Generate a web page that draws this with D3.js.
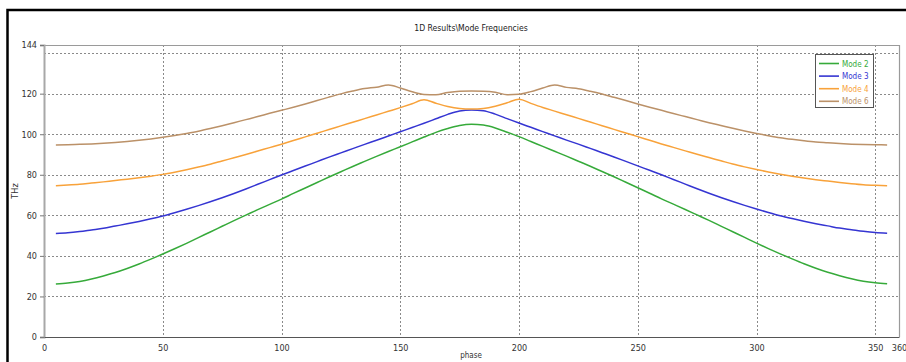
<!DOCTYPE html>
<html><head><meta charset="utf-8">
<script src="https://cdn.jsdelivr.net/npm/d3@7"></script>
<style>
html,body{margin:0;padding:0;background:#fff;}
svg{display:block;}
text{font-family:"Liberation Sans Narrow","DejaVu Sans Condensed","Arial Narrow",sans-serif;}
</style></head>
<body>
<svg id="chart" width="906" height="362"></svg>
<script>
const phases = [5,10,15,20,25,30,35,40,45,50,55,60,65,70,75,80,85,90,95,100,105,110,115,120,125,130,135,140,145,150,155,160,165,170,175,180,
185,190,195,200,205,210,215,220,225,230,235,240,245,250,255,260,265,270,275,280,285,290,295,300,305,310,315,320,325,330,335,340,345,350,355];
const mode2 = [26.1,26.6,27.4,28.6,30.1,31.8,33.8,36.0,38.4,40.9,43.5,46.2,49.0,51.8,54.6,57.4,60.1,62.8,65.4,68.0,70.8,73.5,76.2,78.9,81.5,84.1,86.6,89.1,91.5,93.8,96.2,98.6,100.9,102.8,104.3,104.9,
104.5,103.1,101.0,98.8,96.4,94.0,91.6,89.2,86.7,84.2,81.6,79.0,76.3,73.6,70.9,68.1,65.5,62.9,60.2,57.5,54.7,51.9,49.1,46.3,43.6,41.0,38.5,36.1,33.9,31.9,30.2,28.7,27.5,26.7,26.2];
const mode3 = [51.1,51.4,52.0,52.8,53.6,54.7,55.8,57.0,58.3,59.7,61.3,63.0,64.8,66.7,68.7,70.8,73.0,75.3,77.6,79.9,82.1,84.3,86.5,88.7,90.8,92.9,95.0,97.0,99.1,101.2,103.3,105.4,107.6,109.8,111.5,112.0,
111.6,109.9,107.7,105.5,103.4,101.3,99.2,97.1,95.1,93.0,90.9,88.8,86.6,84.4,82.2,80.0,77.7,75.4,73.1,70.9,68.8,66.8,64.9,63.1,61.4,59.8,58.4,57.1,55.9,54.8,53.7,52.9,52.1,51.5,51.2];
const mode4 = [74.6,74.9,75.3,75.9,76.5,77.2,77.8,78.5,79.3,80.2,81.3,82.5,83.8,85.2,86.8,88.4,90.0,91.7,93.4,95.1,96.9,98.7,100.5,102.3,104.1,105.9,107.7,109.5,111.3,113.1,115.0,117.0,115.3,113.7,112.7,112.4,
112.7,113.8,115.5,117.3,115.2,113.2,111.4,109.6,107.8,106.0,104.2,102.4,100.6,98.8,97.0,95.2,93.5,91.8,90.1,88.5,86.9,85.3,83.9,82.6,81.4,80.3,79.3,78.4,77.6,76.9,76.2,75.6,75.1,74.8,74.6];
const mode6 = [94.7,94.8,95.0,95.2,95.5,95.9,96.4,97.0,97.7,98.5,99.4,100.4,101.5,102.8,104.2,105.7,107.2,108.7,110.3,111.8,113.3,114.9,116.6,118.3,119.9,121.3,122.5,123.2,124.3,122.8,120.9,119.6,119.5,120.6,121.2,121.3,
121.2,120.7,119.5,119.7,121.0,122.8,124.3,123.1,122.4,121.2,119.8,118.2,116.6,114.9,113.3,111.8,110.2,108.7,107.2,105.7,104.3,102.9,101.6,100.4,99.3,98.3,97.5,96.8,96.2,95.8,95.4,95.1,94.9,94.8,94.7];
const seriesNames = ["Mode 2","Mode 3","Mode 4","Mode 6"];
const seriesValues = [mode2, mode3, mode4, mode6];
const seriesColors = ["#36aa3a","#3535d2","#f8a23a","#bb9168"];
const xTicks = [0,50,100,150,200,250,300,350,360];
const xGrid = [50,100,150,200,250,300,350];
const yTicks = [0,20,40,60,80,100,120,144];
const yGrid = [20,40,60,80,100,120,140];
const titleText = "1D Results\\Mode Frequencies";
const xLabel = "phase";
const yLabel = "THz";

const svg = d3.select("#chart");
const x = d3.scaleLinear().domain([0,360]).range([44,899]);
const y = d3.scaleLinear().domain([0,144]).range([337,45]);

// outer frame
svg.append("path").attr("d","M7.5,362 L7.5,10 L906,10").attr("fill","none").attr("stroke","#000").attr("stroke-width",2.5);

// title
svg.append("text").attr("x",471).attr("y",31).attr("text-anchor","middle").attr("font-size",8.6).attr("fill","#222").text(titleText);

// grid
const g = svg.append("g");
g.selectAll("line.hg").data(yGrid).join("line").attr("x1",44).attr("x2",899)
  .attr("y1",d=>Math.round(y(d))+0.5).attr("y2",d=>Math.round(y(d))+0.5)
  .attr("stroke","#8a8a8a").attr("stroke-width",1).attr("stroke-dasharray","2,2");
g.selectAll("line.vg").data(xGrid).join("line").attr("y1",45).attr("y2",337)
  .attr("x1",d=>Math.round(x(d))+0.5).attr("x2",d=>Math.round(x(d))+0.5)
  .attr("stroke","#8a8a8a").attr("stroke-width",1).attr("stroke-dasharray","2,2");

// plot frame top/right
svg.append("path").attr("d",`M44,45.5 L899.5,45.5 L899.5,337`).attr("fill","none").attr("stroke","#9a9a9a").attr("stroke-width",1.2);

// axes
const yAxis = d3.axisLeft(y).tickValues(yTicks).tickSize(4).tickPadding(3);
const ya = svg.append("g").attr("transform","translate(44,0)").call(yAxis);
ya.select(".domain").attr("stroke","#a8a8a8").attr("stroke-width",2);
ya.selectAll(".tick line").attr("stroke","#777");
ya.selectAll("text").attr("font-size",9).attr("fill","#333").style("font-family",'"Liberation Sans Narrow","DejaVu Sans Condensed",sans-serif');

const xAxis = d3.axisBottom(x).tickValues(xTicks).tickSize(0).tickPadding(8);
const xa = svg.append("g").attr("transform","translate(0,337)").call(xAxis);
xa.select(".domain").attr("stroke","#555").attr("stroke-width",1.2);
xa.selectAll("text").attr("font-size",9).attr("fill","#333").style("font-family",'"Liberation Sans Narrow","DejaVu Sans Condensed",sans-serif');

// axis labels
svg.append("text").attr("x",471).attr("y",358).attr("text-anchor","middle").attr("font-size",8).attr("fill","#333").text(xLabel);
svg.append("text").attr("transform","translate(18,191) rotate(-90)").attr("text-anchor","middle").attr("font-size",9).attr("fill","#333").text(yLabel);

// lines
const line = d3.line().x((d,i)=>x(phases[i])).y(d=>y(d)).curve(d3.curveMonotoneX);
seriesValues.forEach((vals,k)=>{
  svg.append("path").datum(vals).attr("d",line).attr("fill","none")
    .attr("stroke",seriesColors[k]).attr("stroke-width",1.5);
});

// legend
const lg = svg.append("g");
lg.append("rect").attr("x",815.5).attr("y",54.5).attr("width",58).attr("height",53)
  .attr("fill","#fff").attr("stroke","#555").attr("stroke-width",1);
seriesNames.forEach((n,k)=>{
  const yy = 63.5 + k*12.6;
  lg.append("line").attr("x1",819).attr("x2",839).attr("y1",yy).attr("y2",yy)
    .attr("stroke",seriesColors[k]).attr("stroke-width",1.6);
  lg.append("text").attr("x",842).attr("y",yy+3).attr("font-size",8).attr("fill",seriesColors[k]).text(n);
});
</script>
</body></html>
